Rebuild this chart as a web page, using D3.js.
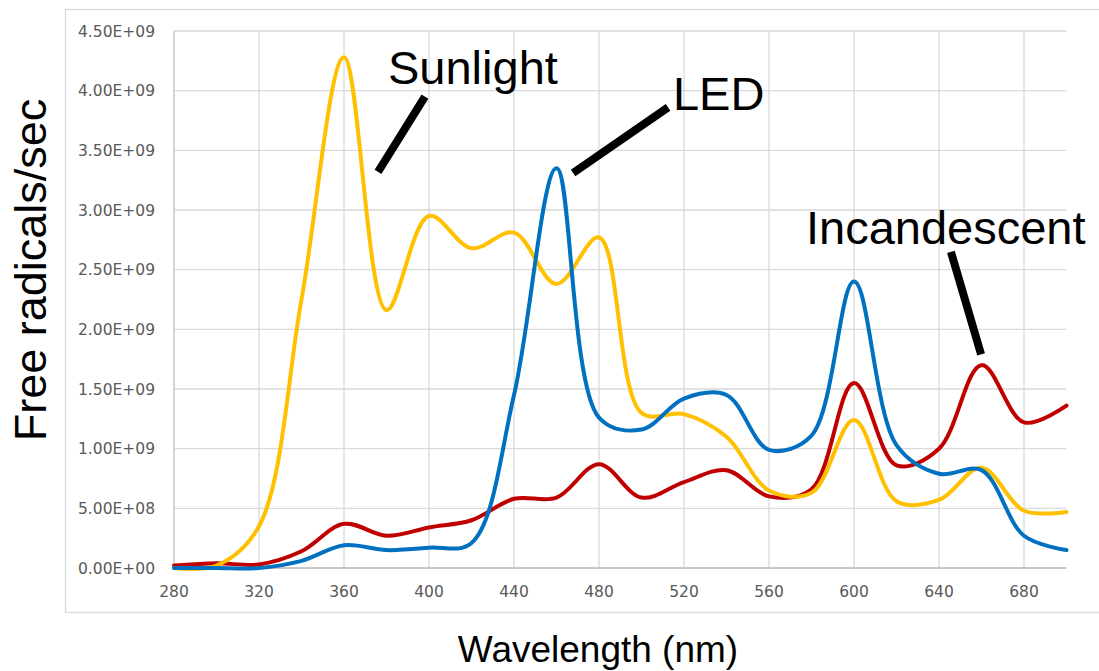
<!DOCTYPE html>
<html>
<head>
	<meta charset="utf-8">
	<script src="https://cdnjs.cloudflare.com/ajax/libs/d3/7.8.5/d3.min.js"></script>
	<style>
	body {
		margin: 0;
		background: #fff;
	}

	.grid line {
		stroke: #d9d9d9;
		stroke-width: 1.3px;
	}

	.tick-label {
		font: 15.5px "DejaVu Sans", sans-serif;
		fill: #595959;
	}

	.line {
		fill: none;
		stroke-width: 4px;
		stroke-linejoin: round;
		stroke-linecap: round;
	}
</style>
</head>
<body>
	<svg width="1099" height="671"></svg>
	<script>
	//data: wavelength samples every 20 nm
	let wavelengths = [280, 300, 320, 340, 360, 380, 400, 420, 440, 460, 480, 500, 520, 540, 560, 580, 600, 620, 640, 660, 680, 700];

	let sunlight = [0.00e9, 0.02e9, 0.35e9, 2.25e9, 4.28e9, 2.16e9, 2.95e9, 2.68e9, 2.81e9, 2.38e9, 2.77e9, 1.30e9, 1.29e9, 1.10e9, 0.65e9, 0.63e9, 1.24e9, 0.56e9, 0.57e9, 0.84e9, 0.48e9, 0.47e9];
	let led = [0.00e9, 0.00e9, 0.00e9, 0.06e9, 0.19e9, 0.15e9, 0.17e9, 0.21e9, 1.45e9, 3.35e9, 1.26e9, 1.16e9, 1.42e9, 1.45e9, 0.99e9, 1.11e9, 2.40e9, 1.03e9, 0.79e9, 0.82e9, 0.27e9, 0.15e9];
	let incandescent = [0.02e9, 0.04e9, 0.03e9, 0.14e9, 0.37e9, 0.27e9, 0.34e9, 0.40e9, 0.58e9, 0.59e9, 0.87e9, 0.59e9, 0.72e9, 0.82e9, 0.60e9, 0.66e9, 1.55e9, 0.86e9, 1.00e9, 1.70e9, 1.22e9, 1.36e9];

	let xTicks = [280, 320, 360, 400, 440, 480, 520, 560, 600, 640, 680];
	let yTicks = [0, 0.5e9, 1e9, 1.5e9, 2e9, 2.5e9, 3e9, 3.5e9, 4e9, 4.5e9];

	//series, drawn bottom to top
	let seriesNames = ["Incandescent", "Sunlight", "LED"];
	let seriesValues = [incandescent, sunlight, led];
	let seriesColors = ["#c00000", "#ffc000", "#0070c0"];

	//callout labels in data units: text anchor, then pointer from/to
	let labelNames = ["Sunlight", "LED", "Incandescent"];
	let labelAt = [[380.7, 4.06e9], [514.8, 3.84e9], [577.4, 2.715e9]];
	let pointerFrom = [[398.1, 3.95e9], [512.5, 3.86e9], [645.6, 2.65e9]];
	let pointerTo = [[376.0, 3.32e9], [467.8, 3.31e9], [659.8, 1.79e9]];

	//define chart margins
	let svg = d3.select("svg"),
		margin = {top: 31, right: 32.5, bottom: 103, left: 174},
		width = svg.attr("width") - margin.left - margin.right,
		height = svg.attr("height") - margin.top - margin.bottom;

	//chart area frame
	svg.append("rect")
		.attr("x", 65.5)
		.attr("y", 9.5)
		.attr("width", 1100)
		.attr("height", 603)
		.attr("fill", "none")
		.attr("stroke", "#d9d9d9")
		.attr("stroke-width", 1.3);

	let g = svg.append("g").attr("transform", "translate(" + margin.left + "," + margin.top + ")");

	//define scales
	let x = d3.scaleLinear().domain([280, 700]).range([0, width]),
		y = d3.scaleLinear().domain([0, 4.5e9]).range([height, 0]);

	//horizontal gridlines
	g.append("g")
		.attr("class", "grid")
		.selectAll("line")
		.data(yTicks)
		.enter()
		.append("line")
		.attr("x1", 0)
		.attr("x2", width)
		.attr("y1", function(d) { return y(d); })
		.attr("y2", function(d) { return y(d); });

	//vertical gridlines
	g.append("g")
		.attr("class", "grid")
		.selectAll("line")
		.data(xTicks)
		.enter()
		.append("line")
		.attr("x1", function(d) { return x(d); })
		.attr("x2", function(d) { return x(d); })
		.attr("y1", 0)
		.attr("y2", height);

	//axis lines
	g.append("line")
		.attr("x1", 0).attr("x2", width)
		.attr("y1", height).attr("y2", height)
		.attr("stroke", "#bfbfbf")
		.attr("stroke-width", 1.5);
	g.append("line")
		.attr("x1", 0).attr("x2", 0)
		.attr("y1", 0).attr("y2", height)
		.attr("stroke", "#cfcfcf")
		.attr("stroke-width", 1.5);

	//tick labels
	let fmt = function(v) {
		let e = v === 0 ? 0 : Math.floor(Math.log10(v));
		let m = v / Math.pow(10, e);
		return m.toFixed(2) + "E+" + (e < 10 ? "0" + e : e);
	};

	g.selectAll(".y-label")
		.data(yTicks)
		.enter()
		.append("text")
		.attr("class", "tick-label")
		.attr("x", -19)
		.attr("y", function(d) { return y(d); })
		.attr("dy", "0.36em")
		.attr("text-anchor", "end")
		.text(fmt);

	g.selectAll(".x-label")
		.data(xTicks)
		.enter()
		.append("text")
		.attr("class", "tick-label")
		.attr("x", function(d) { return x(d); })
		.attr("y", height + 29)
		.attr("text-anchor", "middle")
		.text(function(d) { return d; });

	//define line generator (centripetal smoothing, close to spreadsheet smoothing)
	let line = d3.line()
		.curve(d3.curveCatmullRom.alpha(0.5))
		.x(function(d) { return x(d[0]); })
		.y(function(d) { return y(d[1]); });

	//append series lines
	g.selectAll(".line")
		.data(seriesValues)
		.enter()
		.append("path")
		.attr("class", "line")
		.attr("d", function(vals) { return line(vals.map(function(v, i) { return [wavelengths[i], v]; })); })
		.style("stroke", function(d, i) { return seriesColors[i]; })
		.append("title")
		.text(function(d, i) { return seriesNames[i]; });

	//callout pointers
	g.selectAll(".pointer")
		.data(labelNames)
		.enter()
		.append("line")
		.attr("class", "pointer")
		.attr("x1", function(d, i) { return x(pointerFrom[i][0]); })
		.attr("y1", function(d, i) { return y(pointerFrom[i][1]); })
		.attr("x2", function(d, i) { return x(pointerTo[i][0]); })
		.attr("y2", function(d, i) { return y(pointerTo[i][1]); })
		.attr("stroke", "#000")
		.attr("stroke-width", 8);

	//callout labels
	g.selectAll(".callout")
		.data(labelNames)
		.enter()
		.append("text")
		.attr("class", "callout")
		.attr("x", function(d, i) { return x(labelAt[i][0]); })
		.attr("y", function(d, i) { return y(labelAt[i][1]); })
		.style("font", "47px 'Liberation Sans', Arial, sans-serif")
		.text(function(d) { return d; });

	//axis titles
	svg.append("text")
		.attr("transform", "translate(46,270) rotate(-90)")
		.attr("text-anchor", "middle")
		.style("font", "45px 'Liberation Sans', Arial, sans-serif")
		.text("Free radicals/sec");

	svg.append("text")
		.attr("x", 598)
		.attr("y", 662)
		.attr("text-anchor", "middle")
		.style("font", "37px 'Liberation Sans', Arial, sans-serif")
		.text("Wavelength (nm)");

	</script>
</body>
</html>
